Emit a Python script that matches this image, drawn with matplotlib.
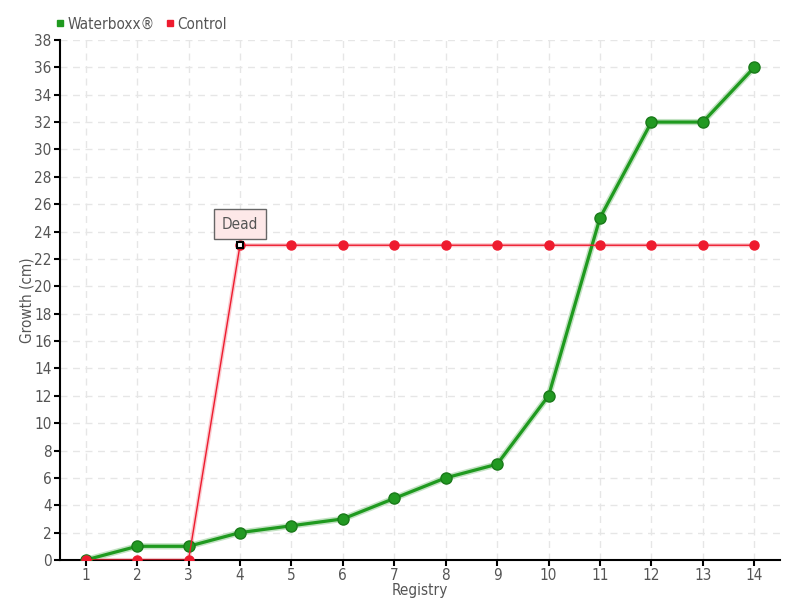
import matplotlib.pyplot as plt
from matplotlib.lines import Line2D

registry = list(range(1, 15))
waterboxx = [0, 1, 1, 2, 2.5, 3, 4.5, 6, 7, 12, 25, 32, 32, 36]
control = [0, 0, 0, 23, 23, 23, 23, 23, 23, 23, 23, 23, 23, 23]
dead_idx = 3

plt.rcParams['font.family'] = ['DejaVu Sans']
plt.rcParams['font.stretch'] = 'condensed'

fig = plt.figure(figsize=(8, 6), dpi=100)
ax = fig.add_axes([0.075, 0.0667, 0.9, 0.8667])

green = '#1f9a1f'
red = '#ee1b2e'

# soft shadow lines under the series
ax.plot(registry, waterboxx, color='#9bcf9b', lw=4.5, zorder=2, alpha=0.6)
ax.plot(registry, control, color='#f7a8b0', lw=3, zorder=2, alpha=0.6)

ax.plot(registry, waterboxx, color=green, lw=2.3, zorder=3,
        marker='o', ms=8, mfc='#229922', mec='#1a7a1a', mew=1)
ax.plot(registry, control, color=red, lw=1, zorder=4,
        marker='o', ms=6.5, mfc=red, mec=red)
# marker for the annotated point
ax.plot(registry[dead_idx], control[dead_idx], marker='s', ms=5,
        mfc='white', mec='black', mew=1.5, zorder=6, ls='none')

ax.annotate('Dead', xy=(registry[dead_idx], control[dead_idx]),
            xytext=(0, 12), textcoords='offset points', ha='center',
            fontsize=11, color='#555555', zorder=7,
            bbox=dict(boxstyle='square,pad=0.5', fc='#fde8e8', ec='#666666', lw=1))

ax.set_xlim(0.5, 14.5)
ax.set_ylim(0, 38)
ax.set_xticks(registry)
ax.set_yticks(range(0, 39, 2))
ax.grid(True, ls=(0, (5, 4)), color='#e6e6e6', lw=1)
ax.set_axisbelow(True)
for s in ['top', 'right']:
    ax.spines[s].set_visible(False)
ax.spines['left'].set_linewidth(1.5)
ax.spines['bottom'].set_linewidth(1.5)
ax.tick_params(direction='out', length=4, width=1.5, labelsize=11,
               labelcolor='#555555', pad=2)
ax.set_xlabel('Registry', fontsize=11, color='#555555', labelpad=0)
ax.set_ylabel('Growth (cm)', fontsize=11, color='#555555', labelpad=0)

handles = [Line2D([], [], ls='none', marker='s', ms=5, mfc=green, mec=green),
           Line2D([], [], ls='none', marker='s', ms=5, mfc=red, mec=red)]
fig.legend(handles, ['Waterboxx®', 'Control'], loc='upper left',
           bbox_to_anchor=(0.05, 0.995), ncol=2, frameon=False,
           handletextpad=0.1, columnspacing=0.6, handlelength=0.8,
           prop={'size': 11}, labelcolor='#555555')

fig.savefig('out.png', dpi=100)
